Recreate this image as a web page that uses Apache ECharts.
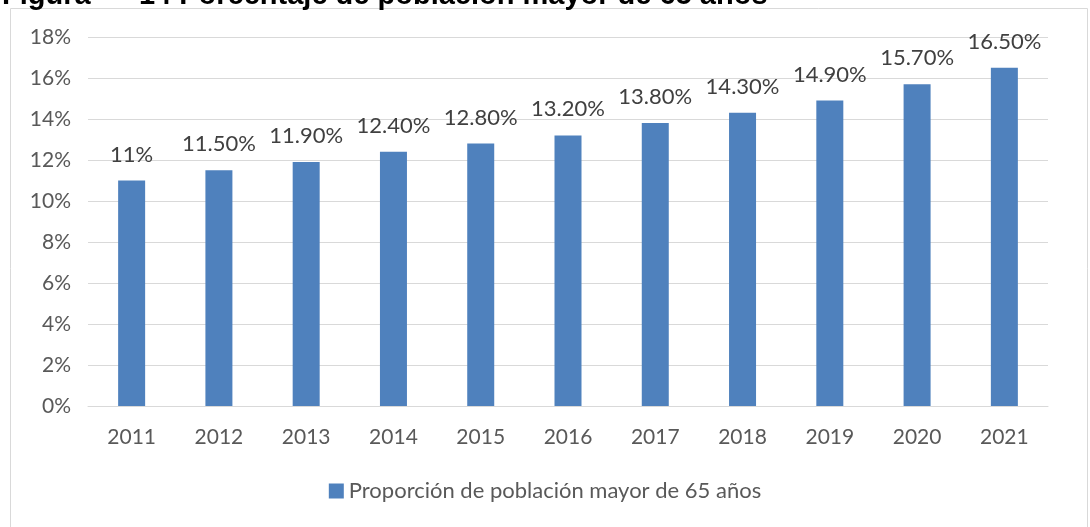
<!DOCTYPE html>
<html>
<head>
<meta charset="utf-8">
<script src="https://cdn.jsdelivr.net/npm/echarts@6/dist/echarts.min.js"></script>
<style>
  html, body { margin: 0; padding: 0; background: #fff; }
  #chart { width: 1090px; height: 527px; }
</style>
</head>
<body>
<div id="chart"></div>
<script>
// años y porcentaje de población mayor de 65 años
const years = ['2011', '2012', '2013', '2014', '2015', '2016', '2017', '2018', '2019', '2020', '2021']
const values = [11, 11.5, 11.9, 12.4, 12.8, 13.2, 13.8, 14.3, 14.9, 15.7, 16.5]
const valueLabels = ['11%', '11.50%', '11.90%', '12.40%', '12.80%', '13.20%', '13.80%', '14.30%', '14.90%', '15.70%', '16.50%']
const seriesName = 'Proporción de población mayor de 65 años'

const font = 'Lato, "Open Sans", sans-serif'

const chart = echarts.init(document.getElementById('chart'))

chart.setOption({
  animation: false,
  title: {
    text: 'Figura      14 Porcentaje de población mayor de 65 años',
    left: -3,
    top: -24,
    textStyle: { fontFamily: 'Arial, "Liberation Sans", sans-serif', fontWeight: 'bold', fontSize: 29, color: '#000' }
  },
  graphic: [{
    type: 'rect',
    shape: { x: 10.5, y: 8.5, width: 1077, height: 530 },
    style: { fill: 'none', stroke: '#d9d9d9', lineWidth: 1 },
    z: -1
  }],
  legend: {
    bottom: 20,
    left: 'center',
    itemWidth: 15,
    itemHeight: 15,
    itemGap: 10,
    icon: 'rect',
    textStyle: { fontFamily: font, fontSize: 22, color: '#595959' },
    data: [seriesName]
  },
  grid: {
    left: 88,
    right: 42,
    top: 37,
    bottom: 121
  },
  xAxis: {
    type: 'category',
    data: years,
    axisTick: { show: false },
    axisLine: { lineStyle: { color: '#d9d9d9' } },
    axisLabel: { fontFamily: font, fontSize: 21, color: '#595959', margin: 21 }
  },
  yAxis: {
    type: 'value',
    min: 0,
    max: 18,
    interval: 2,
    axisLine: { show: false },
    axisTick: { show: false },
    splitLine: { lineStyle: { color: '#d9d9d9' } },
    axisLabel: {
      fontFamily: font, fontSize: 21, color: '#595959', margin: 17,
      formatter: '{value}%'
    }
  },
  series: [{
    name: seriesName,
    type: 'bar',
    data: values,
    barWidth: 27,
    itemStyle: { color: '#4f81bd' },
    label: {
      show: true,
      position: 'top',
      distance: 15,
      fontFamily: font,
      fontSize: 22,
      color: '#404040',
      formatter: p => valueLabels[p.dataIndex]
    }
  }]
})
</script>
</body>
</html>
